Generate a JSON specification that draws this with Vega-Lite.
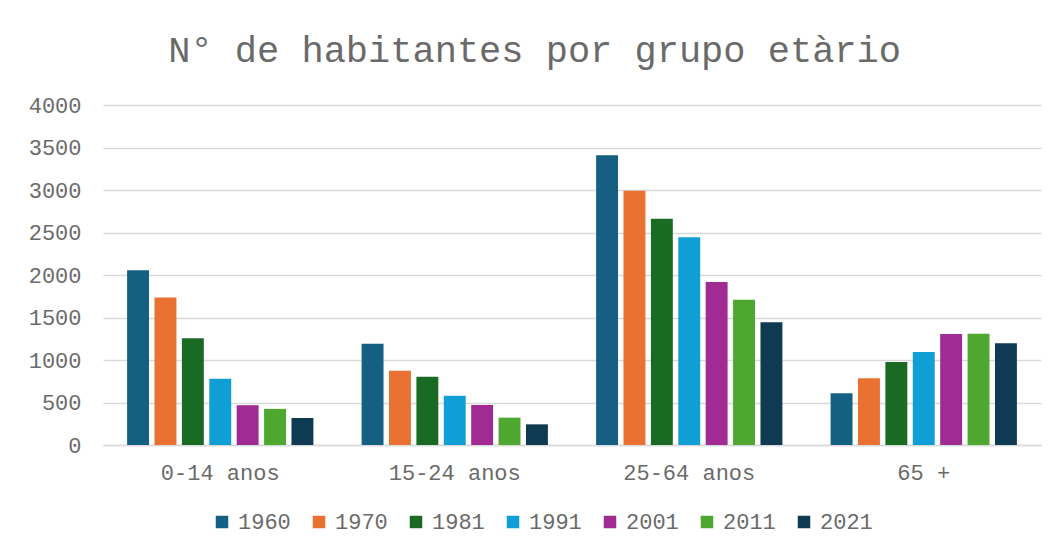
{
  "$schema": "https://vega.github.io/schema/vega-lite/v6.json",
  "width": 938,
  "height": 340,
  "padding": {"left": 28, "top": 32, "right": 17, "bottom": 5},
  "background": "white",
  "title": {
    "text": "N° de habitantes por grupo etàrio",
    "font": "Liberation Mono",
    "fontSize": 37,
    "fontWeight": "normal",
    "color": "#6a6a6a",
    "offset": 24,
    "frame": "bounds"
  },
  "data": {
    "values": [
      {"grupo": "0-14 anos", "ano": "1960", "habitantes": 2055},
      {"grupo": "0-14 anos", "ano": "1970", "habitantes": 1735},
      {"grupo": "0-14 anos", "ano": "1981", "habitantes": 1256},
      {"grupo": "0-14 anos", "ano": "1991", "habitantes": 778},
      {"grupo": "0-14 anos", "ano": "2001", "habitantes": 468},
      {"grupo": "0-14 anos", "ano": "2011", "habitantes": 425},
      {"grupo": "0-14 anos", "ano": "2021", "habitantes": 318},
      {"grupo": "15-24 anos", "ano": "1960", "habitantes": 1192},
      {"grupo": "15-24 anos", "ano": "1970", "habitantes": 874},
      {"grupo": "15-24 anos", "ano": "1981", "habitantes": 804},
      {"grupo": "15-24 anos", "ano": "1991", "habitantes": 580},
      {"grupo": "15-24 anos", "ano": "2001", "habitantes": 471},
      {"grupo": "15-24 anos", "ano": "2011", "habitantes": 322},
      {"grupo": "15-24 anos", "ano": "2021", "habitantes": 243},
      {"grupo": "25-64 anos", "ano": "1960", "habitantes": 3408},
      {"grupo": "25-64 anos", "ano": "1970", "habitantes": 2992},
      {"grupo": "25-64 anos", "ano": "1981", "habitantes": 2663},
      {"grupo": "25-64 anos", "ano": "1991", "habitantes": 2443},
      {"grupo": "25-64 anos", "ano": "2001", "habitantes": 1918},
      {"grupo": "25-64 anos", "ano": "2011", "habitantes": 1710},
      {"grupo": "25-64 anos", "ano": "2021", "habitantes": 1443},
      {"grupo": "65 +", "ano": "1960", "habitantes": 608},
      {"grupo": "65 +", "ano": "1970", "habitantes": 786},
      {"grupo": "65 +", "ano": "1981", "habitantes": 976},
      {"grupo": "65 +", "ano": "1991", "habitantes": 1095},
      {"grupo": "65 +", "ano": "2001", "habitantes": 1306},
      {"grupo": "65 +", "ano": "2011", "habitantes": 1310},
      {"grupo": "65 +", "ano": "2021", "habitantes": 1198}
    ]
  },
  "mark": {"type": "bar"},
  "encoding": {
    "x": {
      "field": "grupo",
      "type": "nominal",
      "sort": null,
      "scale": {"paddingInner": 0, "paddingOuter": 0},
      "axis": {
        "title": null,
        "labelAngle": 0,
        "ticks": false,
        "labelPadding": 17,
        "domainColor": "#d9d9d9",
        "domainWidth": 1.5
      }
    },
    "xOffset": {
      "field": "ano",
      "type": "nominal",
      "scale": {"paddingInner": 0.2, "paddingOuter": 0.88}
    },
    "y": {
      "field": "habitantes",
      "type": "quantitative",
      "scale": {"domain": [0, 4000], "nice": false},
      "axis": {
        "title": null,
        "values": [0, 500, 1000, 1500, 2000, 2500, 3000, 3500, 4000],
        "format": "d",
        "ticks": false,
        "domain": false,
        "labelPadding": 22,
        "gridColor": "#d9d9d9",
        "gridWidth": 1.5
      }
    },
    "color": {
      "field": "ano",
      "type": "nominal",
      "scale": {
        "domain": ["1960", "1970", "1981", "1991", "2001", "2011", "2021"],
        "range": ["#156082", "#e97132", "#196b24", "#0f9ed5", "#a02b93", "#4ea72e", "#0e3a52"]
      },
      "legend": {
        "title": null,
        "orient": "none",
        "legendX": 108,
        "legendY": 406,
        "direction": "horizontal",
        "symbolType": "square",
        "symbolSize": 156,
        "symbolStrokeWidth": 0,
        "labelOffset": 5,
        "columnPadding": 17
      }
    }
  },
  "config": {
    "view": {"stroke": null},
    "axis": {
      "labelFont": "Liberation Mono",
      "labelFontSize": 22,
      "labelColor": "#6a6a6a"
    },
    "legend": {
      "labelFont": "Liberation Mono",
      "labelFontSize": 22,
      "labelColor": "#6a6a6a"
    }
  }
}
